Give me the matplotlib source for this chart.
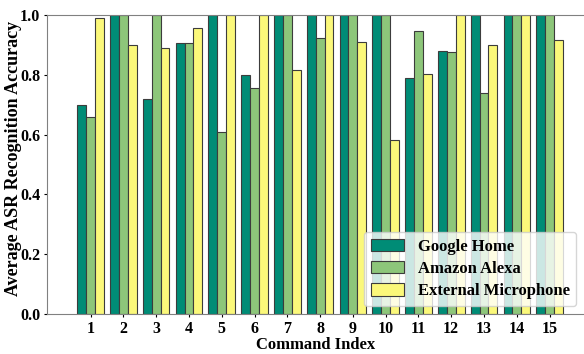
import numpy as np
import matplotlib.pyplot as plt

plt.rcParams['font.family'] = ['Liberation Serif', 'DejaVu Serif']
plt.rcParams['font.weight'] = 'bold'

commands = list(range(1, 16))
google_home = [0.70, 1.00, 0.72, 0.905, 1.00, 0.80, 1.00, 1.00, 1.00, 1.00, 0.79, 0.88, 1.00, 1.00, 1.00]
amazon_alexa = [0.66, 1.00, 1.00, 0.905, 0.61, 0.755, 1.00, 0.923, 1.00, 1.00, 0.945, 0.875, 0.74, 1.00, 1.00]
external_mic = [0.99, 0.90, 0.89, 0.957, 1.00, 1.00, 0.815, 1.00, 0.91, 0.582, 0.803, 1.00, 0.90, 1.00, 0.917]

series = [
    ('Google Home', google_home, '#008c76'),
    ('Amazon Alexa', amazon_alexa, '#8dc67a'),
    ('External Microphone', external_mic, '#fbf87a'),
]

fig = plt.figure(figsize=(5.84, 3.54), dpi=100)
ax = fig.add_axes([0.0805, 0.113, 0.9195, 0.845])

x = np.array(commands)
width = 0.27
for i, (name, vals, color) in enumerate(series):
    ax.bar(x + (i - 1) * width, vals, width, label=name, color=color,
           edgecolor='#3c3c3c', linewidth=0.8)

ax.set_xlim(-0.33, 16.05)
ax.set_ylim(0, 1.0)
ax.set_xticks(x)
ax.set_xticklabels([str(c) for c in commands])
ax.set_yticks([0.0, 0.2, 0.4, 0.6, 0.8, 1.0])
ax.tick_params(axis='both', labelsize=11.5, length=2.5, width=0.8, pad=2.5)
for lbl in ax.get_xticklabels() + ax.get_yticklabels():
    lbl.set_fontweight('bold')

ax.set_xlabel('Command Index', fontsize=12, fontweight='bold', labelpad=0)
ax.set_ylabel('Average ASR Recognition Accuracy', fontsize=13, fontweight='bold')
ax.yaxis.set_label_coords(-0.047, 0.52)

for side in ['left', 'bottom', 'top']:
    ax.spines[side].set_color('#808080')
ax.spines['right'].set_visible(False)

ax.legend(loc='lower right', prop={'weight': 'bold', 'size': 12},
          framealpha=0.8, handlelength=2.0, handleheight=0.75,
          labelspacing=0.38, borderaxespad=0.3, bbox_to_anchor=(0.995, 0.01))

fig.savefig('out.png', dpi=100)
